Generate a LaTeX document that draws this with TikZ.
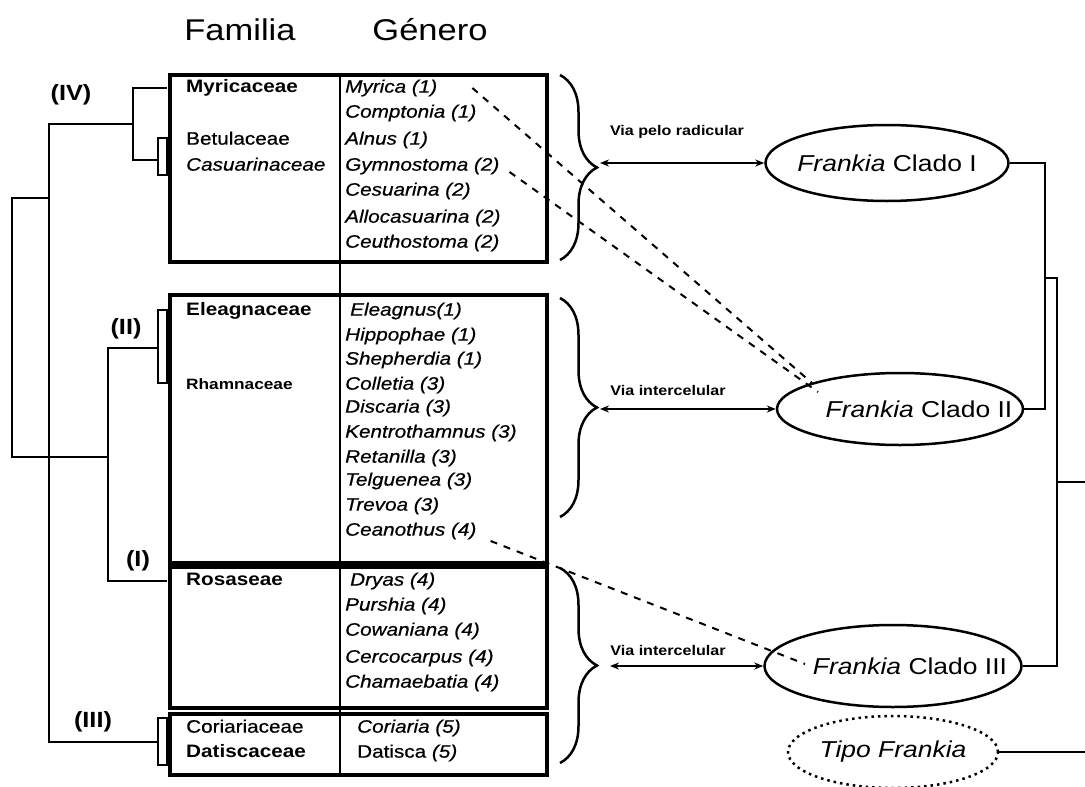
\documentclass[tikz,border=0pt]{standalone}
\usepackage{fontspec}
\setmainfont{Liberation Sans}[FakeStretch=1.15]
\newfontfamily\genfont{Liberation Sans}[FakeStretch=1.15,FakeBold=0.6]
\usetikzlibrary{arrows.meta,shapes.geometric,decorations.pathreplacing}

\begin{document}
\begin{tikzpicture}[x=1pt,y=-1pt,>={Stealth[length=9pt,width=7pt]},
  famtxt/.style={anchor=mid west,inner sep=0pt,font=\fontsize{18}{20}\selectfont},
  gentxt/.style={anchor=mid west,inner sep=0pt,font=\fontsize{18}{20}\selectfont\genfont\itshape},
  headtxt/.style={anchor=base,inner sep=0pt,font=\fontsize{30}{32}\selectfont},
  cladetxt/.style={inner sep=0pt,font=\fontsize{22}{24}\selectfont\bfseries},
  vialbl/.style={inner sep=0pt,font=\fontsize{14}{16}\selectfont\bfseries},
  clado/.style={draw,ellipse,line width=2.5pt,inner sep=0pt,font=\fontsize{23}{25}\selectfont},
  grp/.style={line width=4pt},
  tree/.style={line width=2pt},
  lnk/.style={line width=2pt,dash pattern=on 7pt off 7pt},
  brc/.style={line width=2.5pt,decorate,decoration={brace,amplitude=37pt}}]
\path[use as bounding box,fill=white] (0,0) rectangle (1085,787);
\node[headtxt] (hfam) at (240,40) {Familia};
\node[headtxt] (hgen) at (430,40) {Género};
\draw[tree] (167,88) -- (133,88) -- (133,160) -- (158,160);
\draw[tree] (133,124) -- (49,124) -- (49,742) -- (158,742);
\draw[tree] (49,198) -- (12,198) -- (12,457) -- (108,457);
\draw[tree] (158,348) -- (108,348) -- (108,581) -- (167,581);
\draw[tree,line width=1.5pt,fill=white] (158,138) rectangle (167,175);
\draw[tree,line width=1.5pt,fill=white] (158,310) rectangle (167,383);
\draw[tree,line width=1.5pt,fill=white] (158,718) rectangle (167,765);
\node[cladetxt] (lIV) at (71,95) {(IV)};
\node[cladetxt] (lII) at (126,329) {(II)};
\node[cladetxt] (lI) at (138,561) {(I)};
\node[cladetxt] (lIII) at (93,722) {(III)};
\draw[grp] (170,75) rectangle (547,262);
\draw[grp] (170,295) rectangle (547,563);
\draw[grp] (170,567) rectangle (547,708);
\draw[grp,line width=3.5pt] (170,714) rectangle (547,775);
\draw[tree] (340,75) -- (340,775);
\node[famtxt] (f-myr) at (186,90) {\bfseries Myricaceae};
\node[famtxt] (f-bet) at (186,142) {\genfont Betulaceae};
\node[famtxt] (f-cas) at (186,168) {\genfont\itshape Casuarinaceae};
\node[famtxt] (f-ele) at (186,313) {\bfseries Eleagnaceae};
\node[famtxt,font=\fontsize{15}{16}\selectfont\bfseries] (f-rha) at (186,387) {Rhamnaceae};
\node[famtxt] (f-ros) at (186,583) {\bfseries Rosaseae};
\node[famtxt] (f-cor) at (186,730) {\genfont Coriariaceae};
\node[famtxt] (f-dat) at (186,755) {\bfseries Datiscaceae};
\node[gentxt] (g-myr) at (345,90) {Myrica (1)};
\node[gentxt] (g-com) at (345,115) {Comptonia (1)};
\node[gentxt] (g-aln) at (345,142) {Alnus (1)};
\node[gentxt] (g-gym) at (345,168) {Gymnostoma (2)};
\node[gentxt] (g-ces) at (345,193) {Cesuarina (2)};
\node[gentxt] (g-all) at (345,220) {Allocasuarina (2)};
\node[gentxt] (g-ceu) at (345,245) {Ceuthostoma (2)};
\node[gentxt] (g-ele) at (350,313) {Eleagnus(1)};
\node[gentxt] (g-hip) at (345,338) {Hippophae (1)};
\node[gentxt] (g-she) at (345,362) {Shepherdia (1)};
\node[gentxt] (g-col) at (345,387) {Colletia (3)};
\node[gentxt] (g-dis) at (345,410) {Discaria (3)};
\node[gentxt] (g-ken) at (345,435) {Kentrothamnus (3)};
\node[gentxt] (g-ret) at (345,460) {Retanilla (3)};
\node[gentxt] (g-tel) at (345,483) {Telguenea (3)};
\node[gentxt] (g-tre) at (345,508) {Trevoa (3)};
\node[gentxt] (g-cea) at (345,533) {Ceanothus (4)};
\node[gentxt] (g-dry) at (350,583) {Dryas (4)};
\node[gentxt] (g-pur) at (345,608) {Purshia (4)};
\node[gentxt] (g-cow) at (345,633) {Cowaniana (4)};
\node[gentxt] (g-cer) at (345,660) {Cercocarpus (4)};
\node[gentxt] (g-cha) at (345,685) {Chamaebatia (4)};
\node[gentxt] (g-cor) at (357,730) {Coriaria (5)};
\node[gentxt] (g-dat) at (357,755) {\upshape Datisca \itshape(5)};
\draw[brc] (560,75) -- (560,260);
\draw[brc] (560,298) -- (560,517);
\draw[brc] (560,568) -- (560,763);
\node[clado,minimum width=243pt,minimum height=76pt] (c1) at (887,163) {\makebox[0pt]{\textit{Frankia} Clado I}};
\node[clado,minimum width=246pt,minimum height=72pt] (c2) at (900,409) {\makebox[0pt]{\hspace*{38pt}\textit{Frankia} Clado II}};
\node[clado,minimum width=257pt,minimum height=82pt] (c3) at (893,666) {\makebox[0pt]{\hspace*{34pt}\textit{Frankia} Clado III}};
\node[clado,dash pattern=on 2.5pt off 4pt,minimum width=210pt,minimum height=72pt] (tipo) at (893,752) {\makebox[0pt]{\textit{Tipo Frankia}}};
\node[vialbl] (v1) at (677,132) {Via pelo radicular};
\node[vialbl] (v2) at (668,390) {Via intercelular};
\node[vialbl] (v3) at (668,650) {Via intercelular};
\coordinate (a1) at (600,163);
\coordinate (a2) at (600,409);
\coordinate (a3) at (610,666);
\draw[<->,line width=2pt] (a1) -- (c1.west);
\draw[<->,line width=2pt] (a2) -- (c2.west);
\draw[<->,line width=2pt] (a3) -- (c3.west);
\coordinate (e1) at (812,383);
\coordinate (e2) at (818,392);
\coordinate (e3) at (805,664);
\draw[lnk] ([xshift=35pt]g-myr.east) -- (e1);
\draw[lnk] ([xshift=10pt,yshift=-6pt]g-gym.east) -- (e2);
\draw[lnk] ([xshift=14pt,yshift=-10pt]g-cea.east) -- (e3);
\coordinate (j1) at (1045,278);
\coordinate (j2) at (1057,278);
\coordinate (j3) at (1057,482);
\coordinate (r1) at (1085,482);
\coordinate (r2) at (1085,752);
\draw[tree] (c1.east) -| (j1) |- (c2.east);
\draw[tree] (j1) -- (j2) |- (c3.east);
\draw[tree] (j3) -- (r1);
\draw[tree] (tipo.east) -- (r2);
\end{tikzpicture}
\end{document}
